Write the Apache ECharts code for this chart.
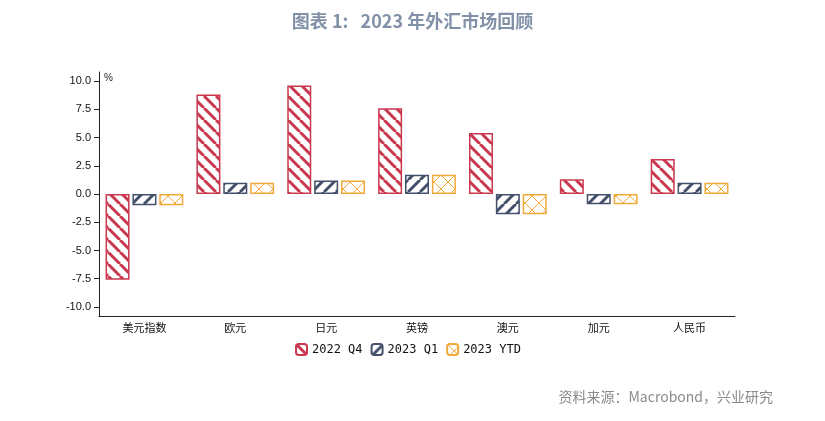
<!DOCTYPE html><html><head><meta charset="utf-8">
<script src="https://cdn.jsdelivr.net/npm/echarts@6/dist/echarts.min.js"></script>
<style>html,body{margin:0;background:#fff}#c{width:825px;height:421px}</style></head><body><div id="c"></div>
<script>
const categories=['美元指数','欧元','日元','英镑','澳元','加元','人民币'];
const q4_2022=[-7.6,8.8,9.6,7.6,5.4,1.3,3.1];
const q1_2023=[-1.0,1.0,1.2,1.7,-1.8,-0.9,1.0];
const ytd_2023=[-1.0,1.0,1.2,1.7,-1.8,-0.9,1.0];
const seriesNames=['2022 Q4','2023 Q1','2023 YTD'];
const yTicks=[-10,-7.5,-5,-2.5,0,2.5,5,7.5,10];
function pat(color,type){
  const s=type==='x'?14:12,c=document.createElement('canvas');c.width=s;c.height=s;const g=c.getContext('2d');
  g.fillStyle='#fff';g.fillRect(0,0,s,s);g.strokeStyle=color;g.lineWidth=type==='x'?1:3;
  g.beginPath();
  if(type==='b'||type==='x'){for(let k=-1;k<=1;k++){g.moveTo(k*s,0);g.lineTo(k*s+s,s);}}
  if(type==='f'||type==='x'){for(let k=-1;k<=1;k++){g.moveTo(k*s,s);g.lineTo(k*s+s,0);}}
  g.stroke();return {image:c,repeat:'repeat'};
}
const cols=['#c9384f','#44506b','#f0a93a'];
const types=['b','f','x'];
const data=[q4_2022,q1_2023,ytd_2023];
const chart=echarts.init(document.getElementById('c'));
chart.setOption({
  animation:false,
  title:{text:'图表 1:   2023 年外汇市场回顾',left:'center',top:7,textStyle:{color:'#8191a8',fontSize:18,fontWeight:'bold',fontFamily:'Noto Sans CJK SC'}},
  graphic:[{type:'text',right:52,top:390,style:{text:'资料来源：Macrobond，兴业研究',fill:'#8a8a8a',fontSize:14,fontFamily:'Noto Sans CJK SC'}},
           {type:'text',left:104,top:73,style:{text:'%',fill:'#222',fontSize:10}}],
  legend:{top:338,left:290,itemWidth:11,itemHeight:11,itemGap:8,textStyle:{fontSize:12,color:'#111',fontFamily:'DejaVu Sans Mono'},data:seriesNames},
  grid:{left:99,right:90,top:72,bottom:105},
  xAxis:{type:'category',data:categories,axisLine:{onZero:false,lineStyle:{color:'#222'}},axisTick:{length:6,lineStyle:{color:'#222'}},
    axisLabel:{color:'#111',fontSize:11,fontFamily:'Noto Sans CJK SC',margin:6}},
  yAxis:{type:'value',min:-10.8,max:10.8,splitLine:{show:false},axisLine:{show:true,lineStyle:{color:'#222'}},
    axisTick:{show:true,length:5,customValues:yTicks,lineStyle:{color:'#222'}},
    axisLabel:{customValues:yTicks,color:'#111',fontSize:11,fontFamily:'Liberation Sans',formatter:v=>v.toFixed(1)}},
  series:data.map((d,i)=>({name:seriesNames[i],type:'bar',data:d,barWidth:24,barGap:'12%',
    itemStyle:{color:pat(cols[i],types[i]),borderColor:cols[i],borderWidth:1.5}}))
});
</script></body></html>
